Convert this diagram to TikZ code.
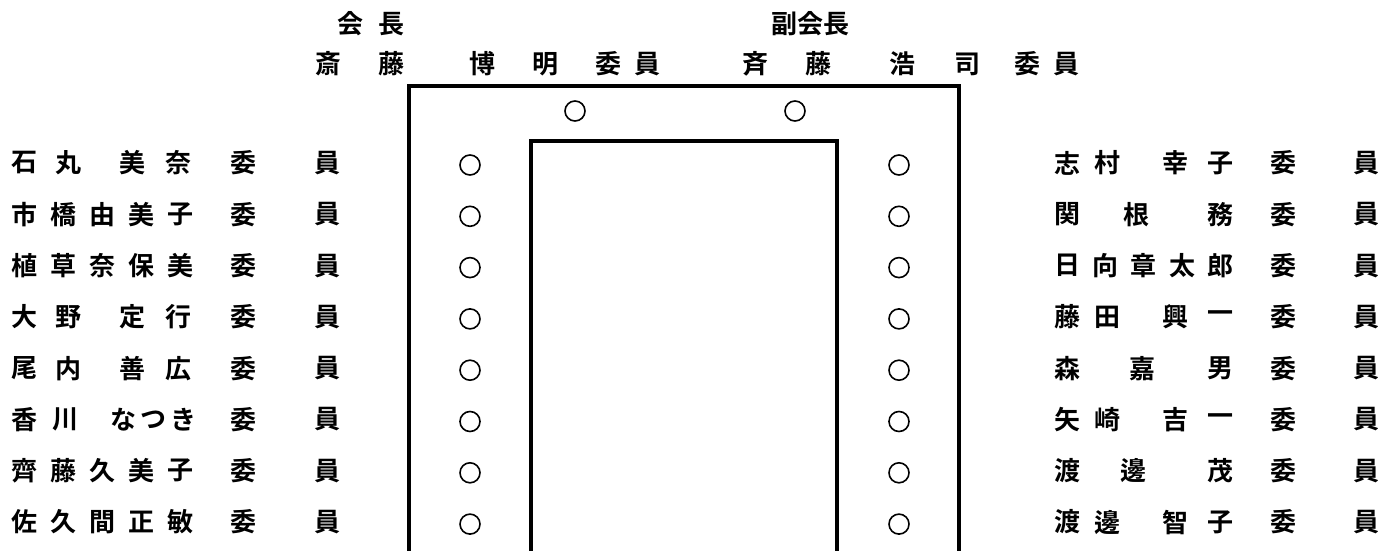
\documentclass[tikz,border=0pt]{standalone}
\usepackage{fontspec}
\setmainfont{Noto Sans CJK JP}[BoldFont={Noto Sans CJK JP Bold}]
\newcommand{\charrow}[3]{%
  \foreach \xx/\cc [count=\kk] in {#3} {\node[ch] (#1-\kk) at (\xx,#2) {\cc};}}
\begin{document}
\begin{tikzpicture}[x=1pt,y=-1pt,
  ch/.style={font=\fontsize{26}{26}\selectfont\bfseries, inner sep=0pt, anchor=center},
  seat/.style={circle, draw, line width=1.6pt, minimum size=20pt, inner sep=0pt},
  wall/.style={line width=4.5pt, line cap=rect}]
\useasboundingbox (0,0) rectangle (1378,551);
\fill[white] (0,0) rectangle (1378,551);
% titles
\charrow{T1}{24}{350/会,391/長,784/副,810/会,836/長}
\charrow{T2}{64}{328/斎,391/藤,482/博,545/明,608/委,647/員,755/斉,818/藤,902/浩,967/司,1027/委,1066/員}
% tables
\coordinate (o1) at (409,560); \coordinate (o2) at (409,86);
\coordinate (o3) at (959,86);  \coordinate (o4) at (959,560);
\coordinate (i1) at (531,560); \coordinate (i2) at (531,141);
\coordinate (i3) at (837,141); \coordinate (i4) at (837,560);
\draw[wall] (o1) -- (o2) -- (o3) -- (o4);
\draw[wall] (i1) -- (i2) -- (i3) -- (i4);
% seats
\node[seat] (ct1) at (575,111) {};
\node[seat] (ct2) at (795,111) {};
\foreach \r in {0,...,7} {
  \node[seat] (cl\r) at (470,{165+51.3*\r}) {};
  \node[seat] (cr\r) at (899,{165+51.3*\r}) {};
}
% left names
\charrow{L1}{163}{25/石,68/丸,132/美,178/奈,243/委,327/員}
\charrow{L2}{214.3}{24/市,63/橋,102/由,141/美,180/子,243/委,327/員}
\charrow{L3}{265.6}{24/植,63/草,102/奈,141/保,180/美,243/委,327/員}
\charrow{L4}{316.9}{25/大,68/野,132/定,178/行,243/委,327/員}
\charrow{L5}{368.2}{25/尾,68/内,132/善,178/広,243/委,327/員}
\charrow{L6}{419.5}{25/香,65/川,123/な,153/つ,183/き,243/委,327/員}
\charrow{L7}{470.8}{24/齊,63/藤,102/久,141/美,180/子,243/委,327/員}
\charrow{L8}{522.1}{24/佐,63/久,102/間,141/正,180/敏,243/委,327/員}
% right names
\charrow{R1}{163}{1067/志,1107/村,1175/幸,1220/子,1283/委,1366/員}
\charrow{R2}{214.3}{1067/関,1136/根,1220/務,1283/委,1366/員}
\charrow{R3}{265.6}{1067/日,1105/向,1143/章,1182/太,1220/郎,1283/委,1366/員}
\charrow{R4}{316.9}{1067/藤,1107/田,1175/興,1220/一,1283/委,1366/員}
\charrow{R5}{368.2}{1067/森,1142/嘉,1220/男,1283/委,1366/員}
\charrow{R6}{419.5}{1067/矢,1107/崎,1175/吉,1220/一,1283/委,1366/員}
\charrow{R7}{470.8}{1067/渡,1133/邊,1220/茂,1283/委,1366/員}
\charrow{R8}{522.1}{1067/渡,1107/邊,1175/智,1220/子,1283/委,1366/員}
\end{tikzpicture}
\end{document}
